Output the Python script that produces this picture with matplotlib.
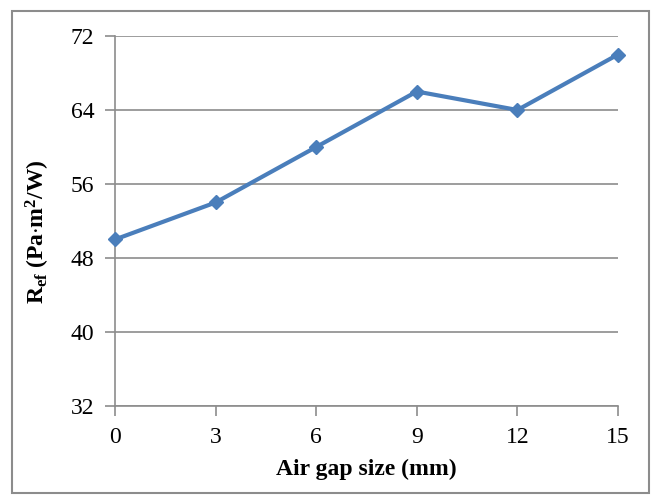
import matplotlib
matplotlib.use("Agg")
import matplotlib.pyplot as plt
from matplotlib.patches import Rectangle

air_gap = [0, 3, 6, 9, 12, 15]
r_ef = [50, 54, 60, 66, 64, 70]
y_ticks = [32, 40, 48, 56, 64, 72]
x_ticks = [0, 3, 6, 9, 12, 15]

plt.rcParams['font.family'] = ['Liberation Serif', 'DejaVu Serif']
plt.rcParams['mathtext.fontset'] = 'custom'
plt.rcParams['mathtext.rm'] = 'Liberation Serif'
plt.rcParams['mathtext.bf'] = 'Liberation Serif:bold'
plt.rcParams['mathtext.it'] = 'Liberation Serif:italic'

fig = plt.figure(figsize=(6.54, 4.96), dpi=100)
ax = fig.add_axes([0.1758, 0.1815, 0.945 - 0.1758, 0.9274 - 0.1815])

grey = '#8c8c8c'
ax.plot(air_gap, r_ef, color='#4a7ebb', lw=3, marker='D', ms=7.5, zorder=3, clip_on=False)
ax.set_xlim(0, 15)
ax.set_ylim(32, 72)
ax.set_xticks(x_ticks)
ax.set_yticks(y_ticks)
ax.grid(axis='y', color=grey, lw=1.2)
for s in ['top', 'right']:
    ax.spines[s].set_visible(False)
for s in ['left', 'bottom']:
    ax.spines[s].set_color(grey)
    ax.spines[s].set_linewidth(1.2)
ax.tick_params(axis='both', colors=grey, length=7, width=1.2, labelsize=17, labelcolor='black')
ax.tick_params(axis='y', pad=8)
ax.tick_params(axis='x', pad=8)

ax.set_xlabel('Air gap size (mm)', fontsize=17, fontweight='bold', labelpad=8)
ax.set_ylabel(r'$\mathbf{R_{ef}\ (Pa{\cdot}m^{2}/W)}$', fontsize=17, labelpad=12)
ax.yaxis.set_label_coords(-0.125, 0.47)

fig.patches.append(Rectangle((12/654, 1 - 493/496), (649-12)/654, (493-11)/496,
                             transform=fig.transFigure, fill=False, edgecolor=grey, lw=1.5))

fig.savefig('out.png', dpi=100)
